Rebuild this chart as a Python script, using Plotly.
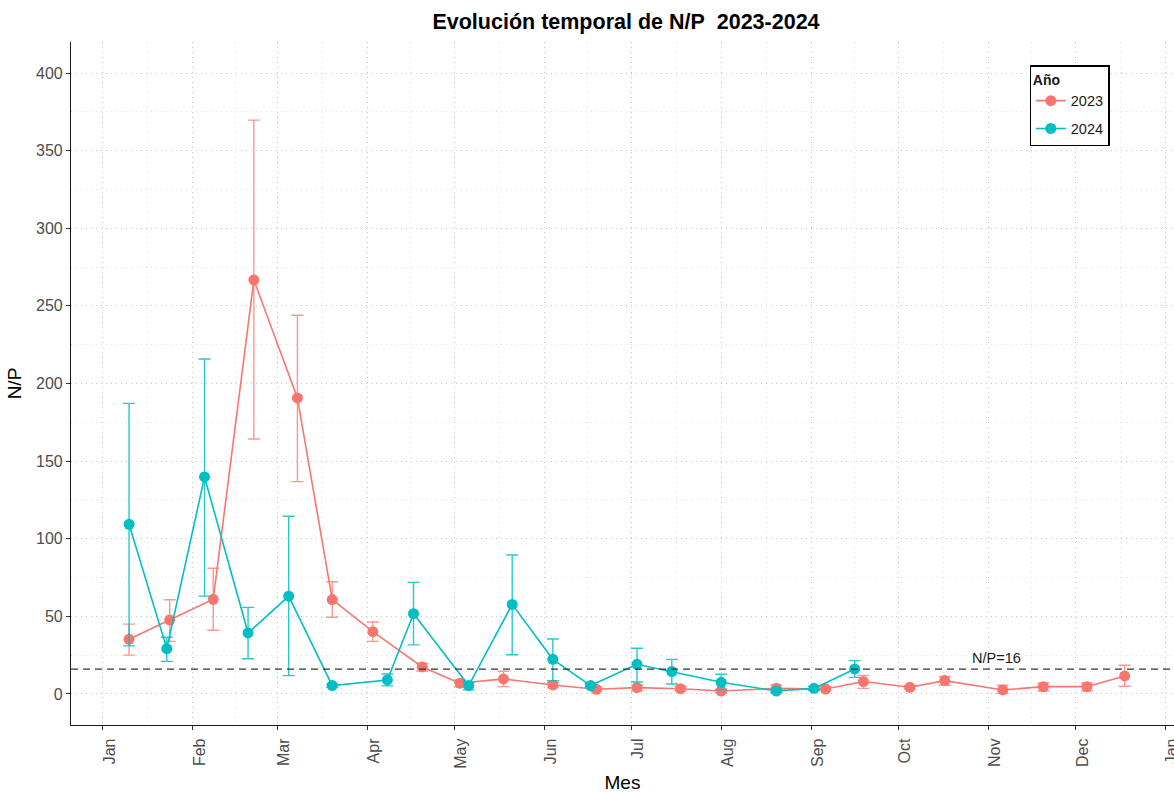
import plotly.graph_objects as go
import pandas as pd

# ---- data (dates placed on a common 2024 calendar, month-day) ----
dates_2023 = ["01-10", "01-24", "02-08", "02-22", "03-08", "03-20", "04-03", "04-20",
              "05-03", "05-18", "06-04", "06-19", "07-03", "07-18", "08-01", "08-20",
              "09-06", "09-19", "10-05", "10-17", "11-06", "11-20", "12-05", "12-18"]
np_2023 = [35.2, 47.7, 61.0, 266.7, 190.7, 60.8, 40.1, 17.4, 6.9, 9.7, 5.8, 3.0,
           4.1, 3.4, 1.9, 3.6, 3.2, 8.0, 4.3, 8.6, 2.6, 4.7, 4.7, 11.6]
upper_2023 = [45.0, 60.7, 81.0, 369.7, 244.0, 72.3, 46.4, 19.7, 9.0, 14.6, 7.5, 4.5,
              5.6, 5.0, 3.0, 5.8, 4.5, 12.0, 5.5, 11.2, 5.6, 7.1, 7.1, 18.5]
lower_2023 = [25.0, 33.9, 41.0, 164.2, 136.8, 49.4, 33.9, 14.8, 4.7, 4.7, 3.9, 1.5,
              2.1, 2.0, 0.8, 1.1, 2.0, 3.6, 3.0, 5.6, 0.4, 1.9, 1.9, 5.0]

dates_2024 = ["01-10", "01-23", "02-05", "02-20", "03-05", "03-20", "04-08", "04-17",
              "05-06", "05-21", "06-04", "06-17", "07-03", "07-15", "08-01", "08-20",
              "09-02", "09-16"]
np_2024 = [109.3, 29.2, 139.8, 39.3, 63.0, 5.4, 9.0, 51.7, 5.4, 57.7, 22.3, 5.4,
           19.1, 14.4, 7.5, 1.9, 3.6, 16.1]
upper_2024 = [187.2, 36.5, 215.8, 55.8, 114.5, 6.5, 12.9, 71.9, 7.5, 89.5, 35.4, 6.5,
              29.4, 22.3, 12.7, 3.0, 5.0, 21.5]
lower_2024 = [31.0, 21.0, 63.0, 22.7, 11.8, 4.3, 5.2, 31.6, 2.6, 25.3, 8.6, 4.3,
              7.7, 6.4, 2.6, 0.8, 2.2, 10.7]

month_labels = ["Jan", "Feb", "Mar", "Apr", "May", "Jun", "Jul", "Aug", "Sep",
                "Oct", "Nov", "Dec", "Jan"]
threshold = 16
threshold_label = "N/P=16"

RED = "#F8766D"
BLUE = "#00BFC4"


def to_dates(md):
    return ["2024-" + d for d in md]


fig = go.Figure()

for name, md, vals, up, lo, col, ecol in [
    ("2023", dates_2023, np_2023, upper_2023, lower_2023, RED, "rgba(248,118,109,0.75)"),
    ("2024", dates_2024, np_2024, upper_2024, lower_2024, BLUE, "rgba(0,191,196,0.85)"),
]:
    fig.add_trace(go.Scatter(
        x=to_dates(md), y=vals, name=name, mode="lines+markers",
        legendgroup=name,
        line=dict(color=col, width=1.6),
        marker=dict(color=col, size=11),
        error_y=dict(type="data", symmetric=False,
                     array=[u - v for u, v in zip(up, vals)],
                     arrayminus=[v - l for v, l in zip(vals, lo)],
                     color=ecol, thickness=1.4, width=6),
    ))

fig.add_hline(y=threshold, line=dict(color="#333333", width=1.4, dash="7px,5px"))
fig.add_annotation(x="2024-11-04", y=threshold, text=threshold_label, showarrow=False,
                   yshift=11, font=dict(size=14.5, color="#1a1a1a"))

major = pd.date_range("2024-01-01", "2025-01-01", freq="MS")
minor = [major[i] + (major[i + 1] - major[i]) / 2 for i in range(len(major) - 1)]

fig.update_layout(
    width=1174, height=793,
    margin=dict(l=71, r=0, t=42, b=68),
    paper_bgcolor="white", plot_bgcolor="white",
    font=dict(family="Liberation Sans, Arial, sans-serif", color="#1a1a1a"),
    title=dict(text="<b>Evolución temporal de N/P\u00a0 2023-2024</b>",
               x=626 / 1174, xanchor="center", y=1 - 21 / 793, yanchor="middle",
               font=dict(size=21.5, color="black")),
    legend=dict(title=dict(text="<b>Año</b>", font=dict(size=14)),
                x=0.869, y=0.966, xanchor="left", yanchor="top",
                bordercolor="black", borderwidth=1.3, bgcolor="white",
                font=dict(size=14.5), itemwidth=30, tracegroupgap=6),
    showlegend=True,
)

fig.update_xaxes(
    type="date", range=["2023-12-21", "2025-01-04"], automargin=False,
    tickmode="array", tickvals=list(major), ticktext=month_labels,
    tickangle=-90, tickfont=dict(size=16, color="#4d4d4d"),
    ticklabelshift=7, ticklabelstandoff=2, ticklabeloverflow="allow",
    ticks="outside", ticklen=4, tickcolor="#333333",
    showline=True, linecolor="#1a1a1a", linewidth=1.2,
    showgrid=True, gridcolor="#c4c4c4", griddash="1px,4px", gridwidth=1.3,
    minor=dict(tickvals=list(minor), showgrid=True, gridcolor="#dddddd",
               griddash="1px,4px", gridwidth=1.2),
    zeroline=False,
    title=dict(text="Mes", font=dict(size=19, color="black"), standoff=10),
)
fig.update_yaxes(
    range=[-20, 420], automargin=False,
    tickvals=[0, 50, 100, 150, 200, 250, 300, 350, 400],
    tickfont=dict(size=16, color="#4d4d4d"),
    ticks="outside", ticklen=4, tickcolor="#333333",
    showline=True, linecolor="#1a1a1a", linewidth=1.2,
    showgrid=True, gridcolor="#c4c4c4", griddash="1px,4px", gridwidth=1.3,
    minor=dict(tickvals=[25, 75, 125, 175, 225, 275, 325, 375],
               showgrid=True, gridcolor="#dddddd", griddash="1px,4px", gridwidth=1.2),
    zeroline=False,
    title=dict(text="N/P", font=dict(size=19, color="black"), standoff=9),
)

fig.write_html("out.html")
